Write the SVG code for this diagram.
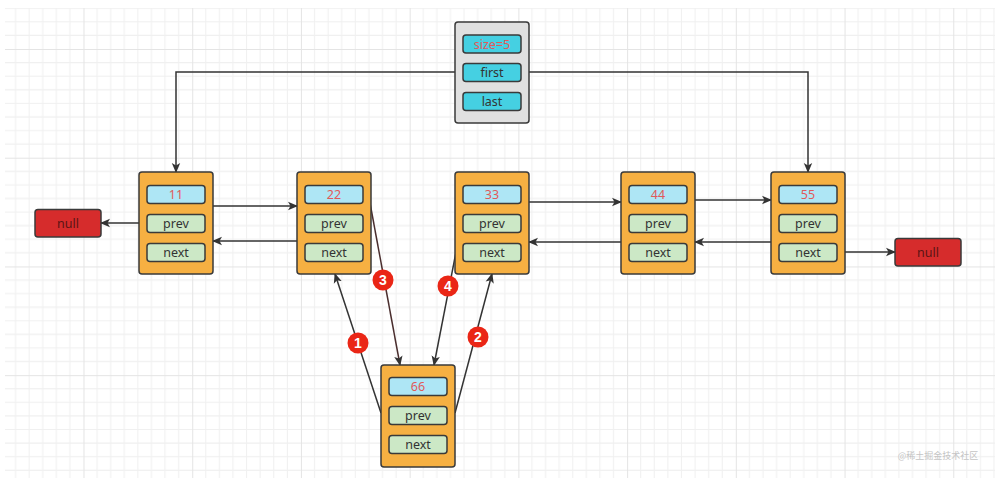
<svg xmlns="http://www.w3.org/2000/svg" width="1001" height="484" viewBox="0 0 1001 484">
<defs>
<pattern id="grid" patternUnits="userSpaceOnUse" x="83.5" y="49" width="108.72" height="108.72">
<path d="M13.59,0V108.72M27.18,0V108.72M40.77,0V108.72M54.36,0V108.72M67.95,0V108.72M81.54,0V108.72M95.13,0V108.72M0,13.59H108.72M0,27.18H108.72M0,40.77H108.72M0,54.36H108.72M0,67.95H108.72M0,81.54H108.72M0,95.13H108.72" stroke="#f0f0f0" stroke-width="1" fill="none"/>
<path d="M0.5,0V108.72M0,0.5H108.72" stroke="#e4e4e4" stroke-width="1" fill="none"/>
</pattern>
<marker id="arr" viewBox="0 0 10 10" refX="9" refY="5" markerWidth="10" markerHeight="10" markerUnits="userSpaceOnUse" orient="auto">
<path d="M0,0.8L10,5L0,9.2L2.5,5z" fill="#333"/>
</marker>
<style>
.node{fill:#f6b042;stroke:#3a3a3a;stroke-width:1.5}
.val{fill:#aee6f5;stroke:#3a3a3a;stroke-width:1.5}
.fld{fill:#cce8c6;stroke:#3a3a3a;stroke-width:1.5}
.cy{fill:#45d0e2;stroke:#3a3a3a;stroke-width:1.5}
.nul{fill:#d62c2c;stroke:#3a3a3a;stroke-width:1.5}
.t{font-family:"Noto Sans","Liberation Sans",sans-serif;font-size:12.5px;text-anchor:middle;fill:#333}
.tv{fill:#e05a5a}
.tn{fill:#5a1414}
.c{fill:none;stroke:#333;stroke-width:1.5;marker-end:url(#arr)}
.b{fill:#ea2616}
.bt{font-family:"Liberation Sans","Noto Sans",sans-serif;font-size:14px;font-weight:bold;text-anchor:middle;fill:#fff}
</style>
</defs>
<rect width="1001" height="484" fill="#fff"/>
<rect x="5" y="8" width="990" height="470" fill="url(#grid)"/>

<g id="connectors">
<path class="c" d="M455,72H176V172"/>
<path class="c" d="M529,72H808V172"/>
<path class="c" d="M147,223H101"/>
<path class="c" d="M213,206H297"/>
<path class="c" d="M297,241H213"/>
<path class="c" d="M529,202H621"/>
<path class="c" d="M621,242H529"/>
<path class="c" d="M695,200H771"/>
<path class="c" d="M771,242H695"/>
<path class="c" d="M838,252H895"/>
<path class="c" d="M381,413L335,274"/>
<path class="c" style="stroke:#4a2e2e" d="M370,203L400,365"/>
<path class="c" d="M457,247L434,365"/>
<path class="c" d="M455,413L492,274"/>
<circle class="b" cx="358" cy="343" r="10.5"/><text class="bt" x="358" y="348">1</text>
<circle class="b" cx="478" cy="337" r="10.5"/><text class="bt" x="478" y="342">2</text>
<circle class="b" cx="383" cy="280" r="10.5"/><text class="bt" x="383" y="285">3</text>
<circle class="b" cx="448" cy="286" r="10.5"/><text class="bt" x="448" y="291">4</text>
</g>

<g id="list">
<rect x="455" y="22" width="74" height="101" rx="3" fill="#e0e0e0" stroke="#3a3a3a" stroke-width="1.5"/>
<rect class="cy" x="463" y="35" width="58" height="18" rx="3"/><text class="t tv" x="492" y="48.5">size=5</text>
<rect class="cy" x="463" y="63.5" width="58" height="18" rx="3"/><text class="t" x="492" y="77">first</text>
<rect class="cy" x="463" y="92.5" width="58" height="18" rx="3"/><text class="t" x="492" y="106">last</text>
</g>

<g id="null-left">
<rect class="nul" x="35" y="209.5" width="66" height="27.5" rx="3"/><text class="t tn" x="68" y="227.5">null</text>
</g>
<g id="null-right">
<rect class="nul" x="895" y="238.5" width="66" height="27.5" rx="3"/><text class="t tn" x="928" y="256.5">null</text>
</g>

<g id="node-11">
<rect class="node" x="139" y="172" width="74" height="102" rx="3"/>
<rect class="val" x="147" y="185.5" width="58" height="18" rx="3"/><text class="t tv" x="176" y="199">11</text>
<rect class="fld" x="147" y="214.5" width="58" height="18" rx="3"/><text class="t" x="176" y="228">prev</text>
<rect class="fld" x="147" y="243.5" width="58" height="18" rx="3"/><text class="t" x="176" y="257">next</text>
</g>
<g id="node-22">
<rect class="node" x="297" y="172" width="74" height="102" rx="3"/>
<rect class="val" x="305" y="185.5" width="58" height="18" rx="3"/><text class="t tv" x="334" y="199">22</text>
<rect class="fld" x="305" y="214.5" width="58" height="18" rx="3"/><text class="t" x="334" y="228">prev</text>
<rect class="fld" x="305" y="243.5" width="58" height="18" rx="3"/><text class="t" x="334" y="257">next</text>
</g>
<g id="node-33">
<rect class="node" x="455" y="172" width="74" height="102" rx="3"/>
<rect class="val" x="463" y="185.5" width="58" height="18" rx="3"/><text class="t tv" x="492" y="199">33</text>
<rect class="fld" x="463" y="214.5" width="58" height="18" rx="3"/><text class="t" x="492" y="228">prev</text>
<rect class="fld" x="463" y="243.5" width="58" height="18" rx="3"/><text class="t" x="492" y="257">next</text>
</g>
<g id="node-44">
<rect class="node" x="621" y="172" width="74" height="102" rx="3"/>
<rect class="val" x="629" y="185.5" width="58" height="18" rx="3"/><text class="t tv" x="658" y="199">44</text>
<rect class="fld" x="629" y="214.5" width="58" height="18" rx="3"/><text class="t" x="658" y="228">prev</text>
<rect class="fld" x="629" y="243.5" width="58" height="18" rx="3"/><text class="t" x="658" y="257">next</text>
</g>
<g id="node-55">
<rect class="node" x="771" y="172" width="74" height="102" rx="3"/>
<rect class="val" x="779" y="185.5" width="58" height="18" rx="3"/><text class="t tv" x="808" y="199">55</text>
<rect class="fld" x="779" y="214.5" width="58" height="18" rx="3"/><text class="t" x="808" y="228">prev</text>
<rect class="fld" x="779" y="243.5" width="58" height="18" rx="3"/><text class="t" x="808" y="257">next</text>
</g>
<g id="node-66">
<rect class="node" x="381" y="365" width="74" height="102" rx="3"/>
<rect class="val" x="389" y="377.5" width="58" height="18" rx="3"/><text class="t tv" x="418" y="391">66</text>
<rect class="fld" x="389" y="406.5" width="58" height="18" rx="3"/><text class="t" x="418" y="420">prev</text>
<rect class="fld" x="389" y="435.5" width="58" height="18" rx="3"/><text class="t" x="418" y="449">next</text>
</g>

<text x="938" y="459" font-family="'Noto Sans CJK SC',sans-serif" font-size="9" fill="#c4c4c4" text-anchor="middle">@稀土掘金技术社区</text>
</svg>
